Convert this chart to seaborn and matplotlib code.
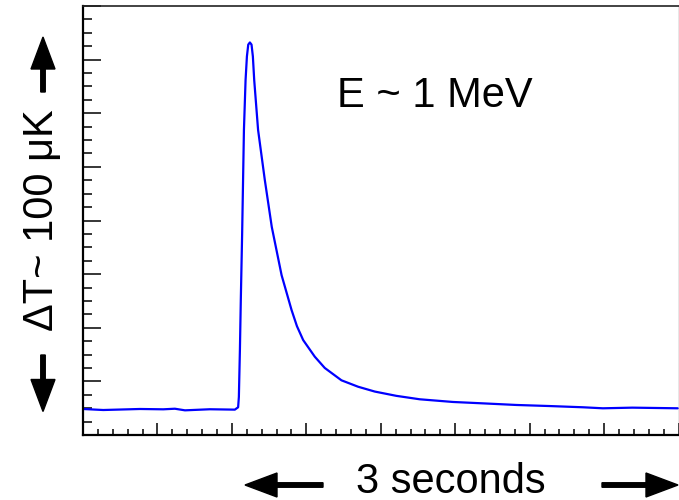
import matplotlib
matplotlib.use("Agg")
import matplotlib.pyplot as plt
from matplotlib.ticker import MultipleLocator
from matplotlib.patches import FancyArrow
from matplotlib.transforms import IdentityTransform
import seaborn as sns
import pandas as pd

# Thermal pulse: time (s) and temperature rise (tick units)
time_s = [0.000, 0.136, 0.383, 0.539, 0.617, 0.685, 0.852, 1.020, 1.042,
          1.047, 1.054, 1.060, 1.069, 1.081, 1.092, 1.101, 1.110, 1.121,
          1.132, 1.141, 1.150, 1.176, 1.221, 1.268, 1.334, 1.401, 1.437,
          1.479, 1.557, 1.624, 1.736, 1.848, 1.960, 2.105, 2.262, 2.485,
          2.687, 2.911, 3.134, 3.358, 3.492, 3.690, 3.995]
delta_t = [0.485, 0.466, 0.485, 0.479, 0.490, 0.460, 0.480, 0.473, 0.517,
           0.710, 1.590, 2.520, 3.760, 5.690, 6.620, 7.060, 7.280, 7.320,
           7.280, 7.060, 6.620, 5.690, 4.760, 3.880, 2.980, 2.330, 2.030,
           1.770, 1.460, 1.250, 1.020, 0.900, 0.810, 0.730, 0.666, 0.616,
           0.590, 0.560, 0.540, 0.517, 0.498, 0.510, 0.498]

energy_label = "E ~ 1 MeV"
x_label = "3 seconds"
y_label = "ΔT~ 100 μK"

sns.set_theme(style="white")
plt.rcParams["font.family"] = ["Liberation Sans", "DejaVu Sans"]

W, H = 679, 500
fig = plt.figure(figsize=(W / 100, H / 100), dpi=100)
ax = fig.add_axes([83 / W, 65 / H, (678.5 - 83) / W, (435 - 6) / H])

df = pd.DataFrame({"t": time_s, "dT": delta_t})
sns.lineplot(data=df, x="t", y="dT", color="#0000ff", lw=1.6, ax=ax,
             sort=False, estimator=None)

ax.set_xlim(0, 4)
ax.set_ylim(0, 8)
ax.xaxis.set_major_locator(MultipleLocator(0.5))
ax.xaxis.set_minor_locator(MultipleLocator(0.1))
ax.yaxis.set_major_locator(MultipleLocator(1))
ax.yaxis.set_minor_locator(MultipleLocator(0.25))
ax.tick_params(axis="both", which="both", direction="in", labelleft=False,
               labelbottom=False, left=True, bottom=True, top=False,
               right=False, color="black", width=1.1)
ax.tick_params(axis="y", which="major", length=13)
ax.tick_params(axis="y", which="minor", length=6.5)
ax.tick_params(axis="x", which="major", length=8.6)
ax.tick_params(axis="x", which="minor", length=4.3)
ax.set_xlabel("")
ax.set_ylabel("")

for side in ("left", "bottom"):
    ax.spines[side].set_color("black")
    ax.spines[side].set_linewidth(1.6)
ax.spines["top"].set_color("#222222")
ax.spines["top"].set_linewidth(1.2)
ax.spines["right"].set_color("#888888")
ax.spines["right"].set_linewidth(1.0)

# Annotation texts, placed in figure pixels
fig.text(337, H - 106.7, energy_label, transform=IdentityTransform(),
         fontsize=30, ha="left", va="baseline", color="black")
fig.text(451, H - 493, x_label, transform=IdentityTransform(),
         fontsize=30, ha="center", va="baseline", color="black")
fig.text(53, H - 220, y_label, transform=IdentityTransform(),
         fontsize=30, rotation=90, rotation_mode="anchor",
         ha="center", va="baseline", color="black")


def arrow(x0, y0, x1, y1):
    a = FancyArrow(x0, y0, x1 - x0, y1 - y0, width=4.5, head_width=24,
                   head_length=32, length_includes_head=True,
                   color="black", transform=IdentityTransform())
    fig.add_artist(a)


arrow(323, H - 485, 245, H - 485)
arrow(602, H - 485, 678, H - 485)
arrow(43, H - 92, 43, H - 37)
arrow(43, H - 355, 43, H - 411.5)

fig.savefig("out.png", dpi=100)
